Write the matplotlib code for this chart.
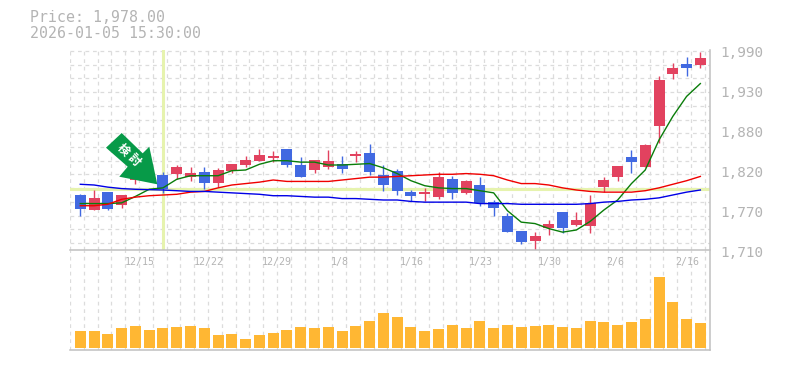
import numpy as np
import matplotlib
matplotlib.use('Agg')
import matplotlib.pyplot as plt
from matplotlib.patches import Polygon

plt.rcParams['font.family'] = ['DejaVu Sans Mono']

W, H = 785, 370

up = [0, 1, 0, 1, 1, 1, 0, 1, 1, 0, 1, 1, 1, 1, 1, 0, 0, 1, 1, 0, 1, 0, 0,
      0, 0, 1, 1, 0, 1, 0, 0, 0, 0, 1, 1, 0, 1, 1, 1, 1, 0, 1, 1, 1, 0, 1]
highs = [1788, 1794, 1791, 1787, 1830, 1820, 1819, 1829, 1826, 1826, 1825, 1830, 1842, 1851, 1849,
         1851, 1840, 1836, 1850, 1842, 1849, 1858, 1829, 1823, 1794, 1797, 1819, 1814, 1808, 1812,
         1780, 1762, 1737, 1735, 1752, 1763, 1763, 1787, 1812, 1828, 1850, 1858, 1954, 1972, 1980, 1987]
tops = [1787, 1783, 1791, 1787, 1822, 1816, 1815, 1826, 1818, 1819, 1822, 1830, 1836, 1843, 1842,
        1851, 1829, 1836, 1835, 1830, 1844, 1846, 1815, 1821, 1791, 1791, 1812, 1809, 1807, 1801,
        1777, 1758, 1737, 1730, 1746, 1763, 1752, 1776, 1808, 1828, 1840, 1857, 1948, 1965, 1970, 1979]
bots = [1767, 1766, 1767, 1773, 1808, 1808, 1796, 1817, 1812, 1804, 1804, 1821, 1829, 1835, 1839,
        1829, 1812, 1822, 1826, 1823, 1842, 1819, 1801, 1793, 1786, 1789, 1784, 1790, 1790, 1776,
        1769, 1735, 1721, 1723, 1741, 1741, 1745, 1744, 1798, 1812, 1833, 1826, 1884, 1956, 1965, 1969]
lows = [1758, 1766, 1766, 1769, 1803, 1806, 1790, 1809, 1807, 1796, 1798, 1818, 1826, 1835, 1833,
        1826, 1812, 1818, 1823, 1818, 1833, 1815, 1793, 1787, 1779, 1779, 1781, 1781, 1788, 1772,
        1758, 1735, 1718, 1709, 1731, 1734, 1744, 1734, 1791, 1807, 1818, 1826, 1860, 1949, 1954, 1965]

ma_green = [1775, 1775, 1775, 1776, 1785, 1795, 1797, 1809, 1814, 1814, 1814, 1821, 1822, 1830, 1835,
            1835, 1833, 1833, 1829, 1829, 1830, 1831, 1825, 1817, 1807, 1800, 1797, 1796, 1796, 1793,
            1790, 1765, 1749, 1747, 1740, 1735, 1738, 1750, 1766, 1780, 1803, 1822, 1864, 1897, 1925, 1943]
ma_red = [1772, 1772, 1774, 1781, 1784, 1786, 1787, 1788, 1791, 1792, 1797, 1801, 1803, 1805, 1808,
          1806, 1806, 1806, 1806, 1808, 1810, 1812, 1812, 1813, 1814, 1815, 1816, 1816, 1817, 1816,
          1814, 1808, 1803, 1803, 1801, 1797, 1794, 1792, 1791, 1791, 1791, 1793, 1797, 1802, 1807, 1813]
ma_blue = [1802, 1801, 1798, 1796, 1795, 1794.5, 1794, 1793, 1792, 1792, 1791, 1790, 1789, 1788, 1786,
           1786, 1785, 1784, 1784, 1782, 1782, 1781, 1780, 1780, 1778, 1777, 1777, 1777, 1777, 1775,
           1775, 1775, 1774, 1774, 1774, 1774, 1774, 1775, 1777, 1778, 1780, 1781, 1783, 1787, 1791, 1794]

volume = [51, 51, 42, 60, 66, 54, 60, 63, 66, 60, 39, 42, 27, 39, 45, 54, 63, 60, 63, 51, 66, 81, 105,
          93, 63, 51, 57, 69, 60, 81, 60, 69, 63, 66, 69, 63, 60, 81, 78, 69, 78, 87, 213, 138, 87, 75]

price_ticks = [1990, 1934, 1878, 1822, 1766, 1710]
price_labels = ['1,990', '1,930', '1,880', '1,820', '1,770', '1,710']
date_idx = [4, 9, 14, 19, 24, 29, 34, 39, 44]
date_labels = ['12/15', '12/22', '12/29', '1/8', '1/16', '1/23', '1/30', '2/6', '2/16']
title_lines = ['Price: 1,978.00', '2026-01-05 15:30:00']

RED = '#E2425F'
BLUE = '#4169E1'
GRID = '#DCDCDC'
AXIS = '#C0C0C0'
TEXT = '#B4B4B4'
MARK = '#E6F3AE'
ORANGE = '#FFB733'
ARROW = '#079A48'

fig = plt.figure(figsize=(W / 100, H / 100), dpi=100)
ax = fig.add_axes([70 / W, 1 - 250 / H, 640 / W, 200 / H])
av = fig.add_axes([70 / W, 1 - 350 / H, 640 / W, 100 / H])

x = np.arange(len(up))
xlim = (-0.747, 45.7)
px = 640 / (xlim[1] - xlim[0])  # pixels per candle
price_px = 1.4                  # price units per pixel
grid_x = (np.arange(0, 47) * 13.8 + 70 - 80.3) / 13.78

for a in (ax, av):
    a.set_xlim(*xlim)
    a.set_xticks([])
    a.set_yticks([])
    for s in a.spines.values():
        s.set_visible(False)
    a.vlines(grid_x[grid_x < 45.7], 0, 1, transform=a.get_xaxis_transform(), color=GRID,
             lw=0.9, linestyles=(0, (3, 3)), zorder=1)

ax.set_ylim(1710, 1990)
av.set_ylim(-6, 294)

ax.hlines(np.arange(1988.6, 1711, -19.2), 0, 1, transform=ax.get_yaxis_transform(), color=GRID,
          lw=0.9, linestyles=(0, (3, 3)), zorder=1)

# crosshair on the selected candle
ax.axvline(6, color=MARK, lw=2.2, zorder=2)
ax.axhline(bots[6], color=MARK, lw=2.2, zorder=2)

colors = [RED if u else BLUE for u in up]
w = 11 / px
ax.vlines(x, lows, highs, color=colors, lw=1, zorder=3)
ax.bar(x, np.array(tops) - np.array(bots), bottom=bots, width=w, color=colors, lw=0, zorder=4)

ax.plot(x, ma_green, color='#0A7D0A', lw=1, zorder=5)
ax.plot(x, ma_red, color='#F00000', lw=1, zorder=5)
ax.plot(x, ma_blue, color='#0000E6', lw=1, zorder=5)

av.bar(x, volume, width=w, color=ORANGE, lw=0, zorder=3)


def to_pixel(px_x, px_y):
    return ((px_x - 80.3) / 13.78, 1710 + (250 - px_y) * price_px)


arrow_px = [(106, 147.7), (121.7, 133), (142.7, 153.3), (149.3, 146.7), (157.3, 184.3),
            (119.3, 176.7), (127.7, 166.7)]
ax.add_patch(Polygon([to_pixel(*p) for p in arrow_px], closed=True, fc=ARROW, ec='none', zorder=6))
for ch, cx, cy in [('検', 123.3, 150), ('討', 134.3, 160)]:
    tx, ty = to_pixel(cx, cy)
    ax.text(tx, ty, ch, color='white', fontsize=8.6, rotation=-45, ha='center', va='center',
            family=['Noto Sans CJK JP'], fontweight='bold', zorder=7)

# axis lines
for yp in (250, 350):
    fig.add_artist(plt.Line2D([70 / W, 710 / W], [1 - yp / H, 1 - yp / H], color=AXIS, lw=1.1))
fig.add_artist(plt.Line2D([710 / W, 710 / W], [1 - 50 / H, 1 - 350 / H], color=AXIS, lw=1.1))

for p, lab in zip(price_ticks, price_labels):
    fig.text(720.5 / W, 1 - (250 - (p - 1710) / price_px + 3) / H, lab, color=TEXT,
             fontsize=10.4, ha='left', va='center')

for i, lab in zip(date_idx, date_labels):
    fig.text((80.3 + i * 13.78 - 11) / W, 1 - 262 / H, lab, color=TEXT, fontsize=7.2,
             ha='left', va='center')

fig.text(30 / W, 1 - 18 / H, title_lines[0], color=TEXT, fontsize=10.7, ha='left', va='center')
fig.text(30 / W, 1 - 33 / H, title_lines[1], color=TEXT, fontsize=10.7, ha='left', va='center')

fig.savefig('out.png', dpi=100)
